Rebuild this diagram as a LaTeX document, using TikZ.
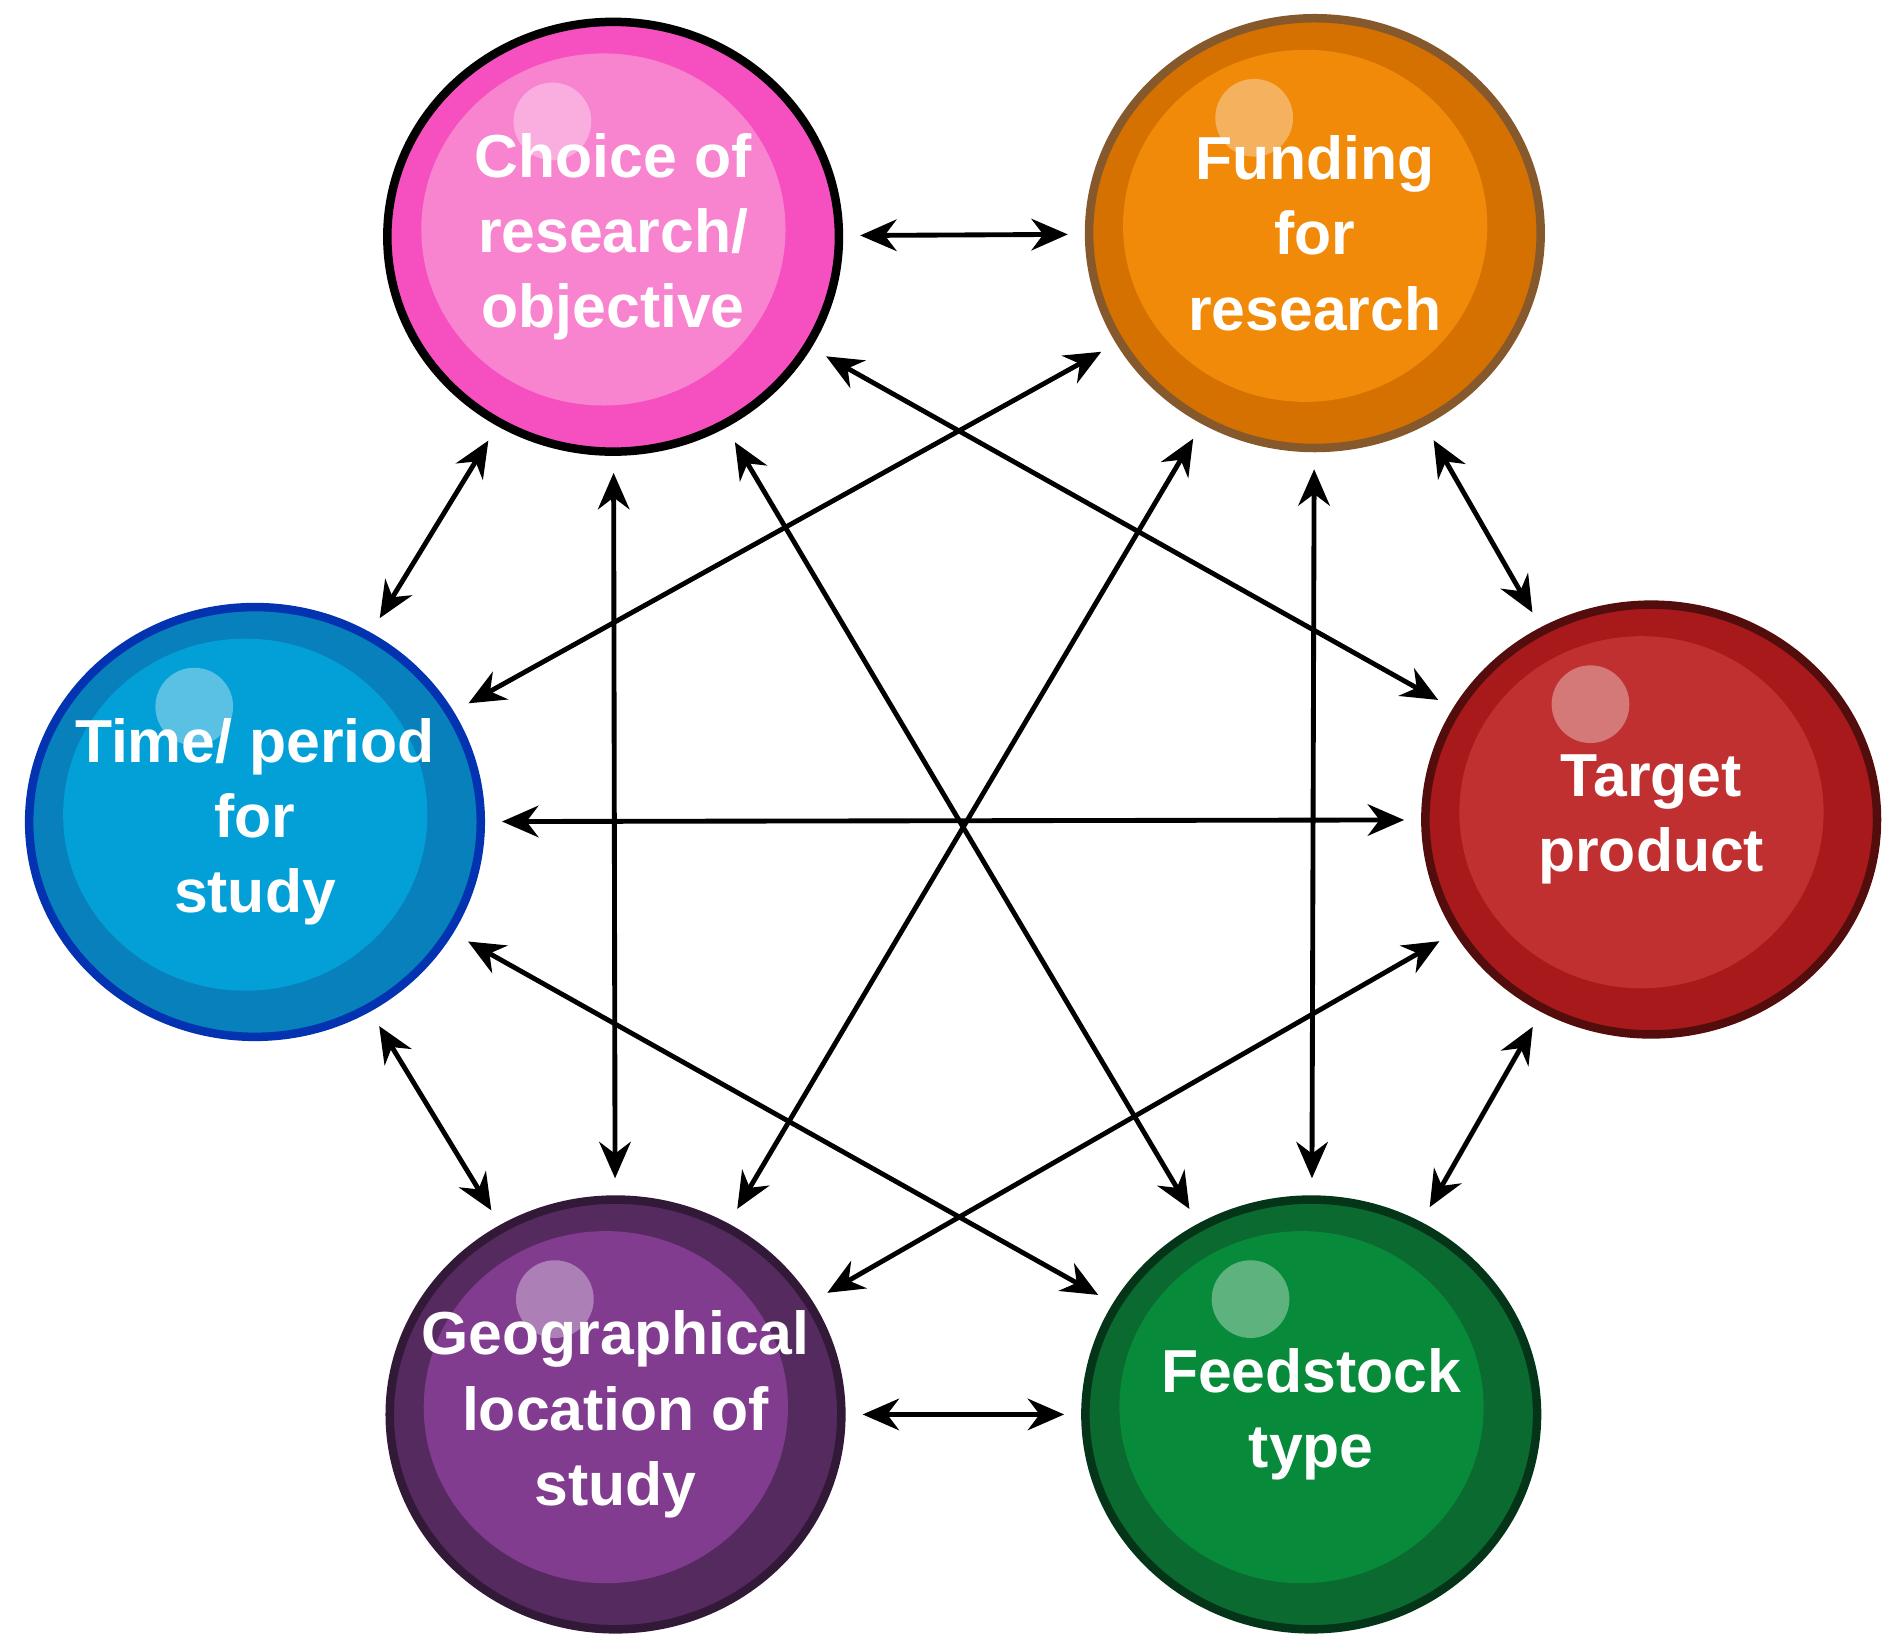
\documentclass[tikz,border=0pt]{standalone}
\usepackage{fontspec}
\setmainfont{Liberation Sans}
\usetikzlibrary{shapes.geometric,arrows.meta}
\begin{document}
\begin{tikzpicture}[x=1pt,y=-1pt,
  ball/.style={ellipse,minimum width=372pt,minimum height=354pt,line width=7pt,inner sep=0pt,
    text=white,font=\bfseries\fontsize{50}{62}\selectfont,align=center},
  arr/.style={{Stealth[length=30pt,width=26pt]}-{Stealth[length=30pt,width=26pt]},line width=4pt,shorten <=14pt,shorten >=14pt}]
\useasboundingbox (0,0) rectangle (1560,1360);
\def\ball#1#2#3#4#5#6#7{%
  \node[ball,fill=#4,draw=#5] (#1) at (#2,#3) {};
  \fill[#6] ($(#2,#3)+(-8,-6)$) ellipse (150pt and 145pt);
  \fill[white,opacity=0.35] ($(#2,#3)+(-50,-95)$) circle (32pt);
  \node[ball,draw=none,fill=none] at (#2,#3) {#7};}
\usetikzlibrary{calc}
\definecolor{pk}{HTML}{F54FC0}\definecolor{pkl}{HTML}{F883CF}
\definecolor{or}{HTML}{D57100}\definecolor{orl}{HTML}{F08A08}
\definecolor{bl}{HTML}{0880BB}\definecolor{bll}{HTML}{03A0D8}
\definecolor{rd}{HTML}{A8191B}\definecolor{rdl}{HTML}{C03030}
\definecolor{pu}{HTML}{552A5E}\definecolor{pul}{HTML}{813C90}
\definecolor{gr}{HTML}{0A6A30}\definecolor{grl}{HTML}{078A3A}
\ball{A}{505}{195}{pk}{black}{pkl}{Choice of\\research/\\objective}
\ball{B}{1083}{192}{or}{brown!70!black}{orl}{Funding\\for\\research}
\ball{C}{210}{677}{bl}{blue!50!bl!80!black}{bll}{Time/ period\\for\\study}
\ball{D}{1360}{675}{rd}{rd!50!black}{rdl}{Target\\product}
\ball{E}{507}{1165}{pu}{pu!60!black}{pul}{Geographical\\location of\\study}
\ball{F}{1080}{1165}{gr}{gr!50!black}{grl}{Feedstock\\type}
\foreach \a/\b in {A/B,A/C,A/D,A/E,A/F,B/C,B/D,B/E,B/F,C/D,C/E,C/F,D/E,D/F,E/F}
  \draw[arr] (\a) -- (\b);
\end{tikzpicture}
\end{document}
